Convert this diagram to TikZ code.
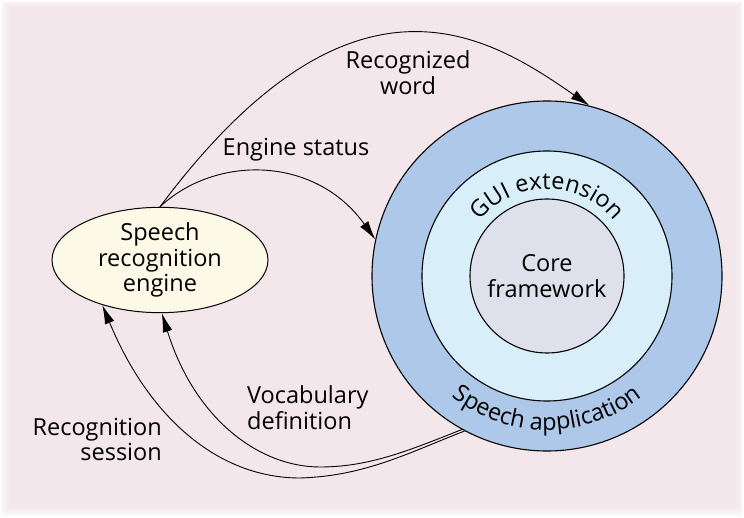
\documentclass[tikz,border=0pt]{standalone}
\usepackage{fontspec}
\setmainfont{Open Sans}
\usetikzlibrary{arrows.meta,shapes.geometric,decorations.text}
\definecolor{bgpink}{RGB}{244,231,235}
\definecolor{ringblue}{RGB}{173,200,232}
\definecolor{guiblue}{RGB}{216,239,250}
\definecolor{coregrey}{RGB}{222,224,236}
\definecolor{engfill}{RGB}{252,249,231}
\tikzset{
  lbl/.style={font=\fontsize{23.5}{25.5}\selectfont, inner sep=0pt},
  ring/.style={circle, draw=black, line width=1.1pt, inner sep=0pt},
  conn/.style={line width=0.9pt, -{Latex[length=19pt,width=10pt]}},
}
\begin{document}
\begin{tikzpicture}[x=1pt,y=1pt]
\useasboundingbox (0,0) rectangle (744,517);
\fill[white] (0,0) rectangle (744,517);
\foreach \i in {0,...,13}
  \fill[bgpink, opacity=0.2] (1+1.1*\i,1+1.3*\i) rectangle (743-0.6*\i,516-0.6*\i);

% rings
\node[ring, fill=ringblue, minimum size=350pt] (app) at (547,241) {};
\node[ring, fill=guiblue, minimum size=250pt] (gui) at (547,241) {};
\node[ring, fill=coregrey, minimum size=154pt, lbl, align=center] (core) at (547,241) {Core\\framework};

% curved labels
{\fontsize{23.5}{25.5}\selectfont
\path[decorate, decoration={text along path, text={GUI extension}, text align=center}]
  ([shift={(150:87)}]gui.center) arc[start angle=150, end angle=30, radius=87];
\path[decorate, decoration={text along path, text={Speech application}, text align=center}]
  ([shift={(205:154)}]app.center) arc[start angle=205, end angle=335, radius=154];
}

% engine
\node[ellipse, draw=black, line width=1pt, fill=engfill, minimum width=216pt, minimum height=104pt, inner sep=0pt, lbl, align=center] (eng) at (160,257) {Speech\\recognition\\engine};

% connectors
\draw[conn] (eng.north) .. controls (353,569) and (489,481) .. (app.76);
\draw[conn] (eng.north) .. controls (215,362) and (315,362) .. (app.168);
\draw[conn] (app.241) .. controls (410,67) and (370,50) .. (320,50) .. controls (260,50) and (195,97) .. (eng.272);
\draw[conn] (app.242) .. controls (408,64) and (365,41) .. (300,39) .. controls (220,39) and (150,97) .. (eng.218);

% labels
\node[lbl, align=center] (lrw) at (408,444.5) {Recognized\\word};
\node[lbl] (les) at (296,367) {Engine status};
\node[lbl, align=left, anchor=west] (lvd) at (247,109.5) {Vocabulary\\definition};
\node[lbl, align=right, anchor=east] (lrs) at (162,77.5) {Recognition\\session};
\end{tikzpicture}
\end{document}
